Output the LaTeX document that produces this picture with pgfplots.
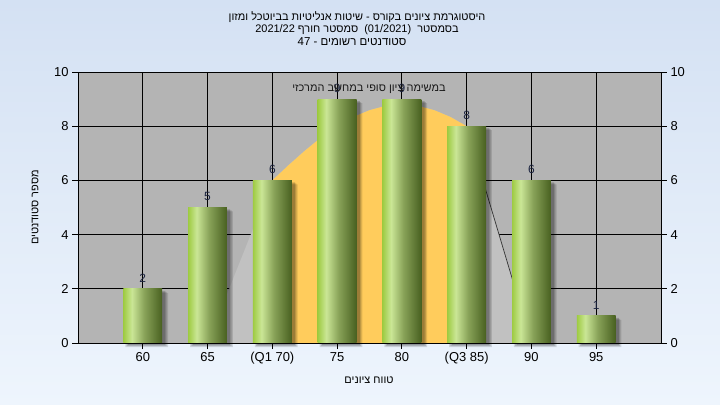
\documentclass[border=0pt]{standalone}
\usepackage{fontspec}
\setmainfont{Liberation Sans}
\newfontfamily\heb[Script=Hebrew]{Liberation Sans}
\usepackage{pgfplots}
\pgfplotsset{compat=1.18}
\TeXXeTstate=1

\definecolor{bgtop}{RGB}{212,225,243}
\definecolor{bgbot}{RGB}{238,245,253}
\definecolor{plotbg}{RGB}{180,180,180}
\definecolor{lgray}{RGB}{193,193,193}
\definecolor{yel}{RGB}{255,204,92}
\definecolor{g0}{RGB}{158,203,66}
\definecolor{g1}{RGB}{202,230,150}
\definecolor{g2}{RGB}{136,162,88}
\definecolor{g3}{RGB}{72,96,32}
\definecolor{lbl}{RGB}{28,36,64}
\pgfdeclarehorizontalshading{barshade}{100bp}{color(0bp)=(g0); color(25bp)=(g0); color(36bp)=(g1); color(52bp)=(g2); color(75bp)=(g3); color(100bp)=(g3)}

\pgfplotstableread{
x y
0 2
1 5
2 6
3 9
4 9
5 8
6 6
7 1
}\bars

\pgfplotsset{
  greenbar/.style={ybar, bar width=0.6, bar shift=0, draw=none, shade, shading=barshade,
    nodes near coords,
    every node near coord/.append style={font=\fontsize{12}{14}\selectfont, text=lbl, anchor=south, inner sep=1.5bp, yshift=5bp}},
}

\begin{document}
\begin{tikzpicture}
\shade[top color=bgtop, bottom color=bgbot] (0bp,0bp) rectangle (720bp,405bp);

\begin{axis}[
  at={(78bp,62bp)}, anchor=south west,
  scale only axis, width=583bp, height=271bp,
  xmin=-1, xmax=8, ymin=0, ymax=10,
  axis background/.style={fill=plotbg},
  xtick={0,...,7},
  xticklabels={60,65,(Q1 70),75,80,(Q3 85),90,95},
  ytick={0,2,...,10},
  ytick pos=left, xtick pos=bottom,
  tick align=outside, major tick length=6bp,
  grid=major, major grid style={black, line width=0.8bp},
  axis line style={black, line width=0.8bp},
  tick style={black, line width=0.8bp},
  tick label style={font=\fontsize{13}{15}\selectfont, text=black},
  /pgf/number format/assume math mode=true,
  clip=false,
]
% distribution area (gray) and inter-quartile part (yellow)
\addplot[fill=lgray, draw=none] coordinates {
  (1,0) (2,6) (2.25,6.56) (2.5,7.09) (2.75,7.58) (3,8.00) (3.25,8.34)
  (3.5,8.59) (3.75,8.75) (4,8.80) (4.25,8.75) (4.5,8.59) (4.75,8.34)
  (5,8.00) (6,0)} \closedcycle;
\addplot[fill=yel, draw=none] coordinates {
  (2,0) (2,6) (2.25,6.56) (2.5,7.09) (2.75,7.58) (3,8.00) (3.25,8.34)
  (3.5,8.59) (3.75,8.75) (4,8.80) (4.25,8.75) (4.5,8.59) (4.75,8.34)
  (5,8.00) (5,0)} \closedcycle;
\addplot[draw=black!80, line width=0.7bp] coordinates {(5,8) (6,0)};
% soft shadows
\addplot[ybar, bar width=0.66, bar shift=0.06, fill=black, fill opacity=0.12, draw=none, yshift=-4bp] table[x=x,y=y] {\bars};
\addplot[ybar, bar width=0.62, bar shift=0.06, fill=black, fill opacity=0.15, draw=none, yshift=-3bp] table[x=x,y=y] {\bars};
\addplot[ybar, bar width=0.58, bar shift=0.06, fill=black, fill opacity=0.18, draw=none, yshift=-2bp] table[x=x,y=y] {\bars};
% bars, one plot each so that every bar gets its own gradient
\addplot[greenbar] coordinates {(0,2)};
\addplot[greenbar] coordinates {(1,5)};
\addplot[greenbar] coordinates {(2,6)};
\addplot[greenbar] coordinates {(3,9)};
\addplot[greenbar] coordinates {(4,9)};
\addplot[greenbar] coordinates {(5,8)};
\addplot[greenbar] coordinates {(6,6)};
\addplot[greenbar] coordinates {(7,1)};
\end{axis}

\begin{axis}[
  at={(78bp,62bp)}, anchor=south west,
  scale only axis, width=583bp, height=271bp,
  xmin=-1, xmax=8, ymin=0, ymax=10,
  axis x line=none, axis y line*=right,
  ytick={0,2,...,10},
  tick align=outside, major tick length=6bp,
  axis line style={black, line width=0.8bp},
  tick style={black, line width=0.8bp},
  tick label style={font=\fontsize{13}{15}\selectfont, text=black},
  /pgf/number format/assume math mode=true,
]
\addplot[draw=none] coordinates {(0,0)};
\end{axis}

\node[font=\heb\fontsize{11}{13}\selectfont, text=black!90] at (369bp,316bp)
  {\beginR במשימה ציון סופי במחשב המרכזי\endR};

\node[font=\heb\fontsize{11}{13}\selectfont] at (357bp,388bp)
  {\beginR היסטוגרמת ציונים בקורס - שיטות אנליטיות בביוטכל ומזון\endR};
\node[font=\heb\fontsize{11}{13}\selectfont] at (357bp,375.5bp)
  {\beginR בסמסטר \ \beginL(01/2021)\endL{}\ \ סמסטר חורף \beginL2021/22\endL\endR};
\node[font=\heb\fontsize{11.5}{13}\selectfont] at (352bp,363bp)
  {\beginR סטודנטים רשומים - \beginL47\endL\endR};

\node[font=\heb\fontsize{11}{13}\selectfont, rotate=90] at (35bp,197.5bp)
  {\beginR מספר סטודנטים\endR};
\node[font=\heb\fontsize{11}{13}\selectfont] at (369bp,25bp)
  {\beginR טווח ציונים\endR};
\end{tikzpicture}
\end{document}
